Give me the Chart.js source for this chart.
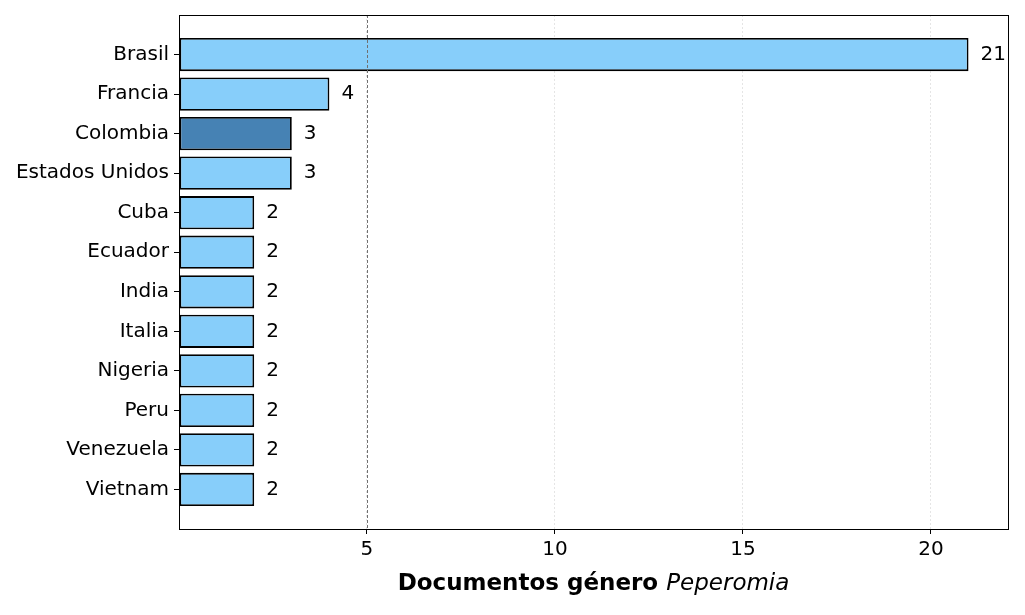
<!DOCTYPE html>
<html><head><meta charset="utf-8">
<script src="https://cdn.jsdelivr.net/npm/chart.js@4.4.1/dist/chart.umd.min.js"></script>
<style>html,body{margin:0;padding:0;background:#fff}#wrap{width:1025px;height:615px}</style>
</head><body><div id="wrap"><canvas id="c" width="1025" height="615"></canvas></div>
<script>
const countries = ["Brasil","Francia","Colombia","Estados Unidos","Cuba","Ecuador","India","Italia","Nigeria","Peru","Venezuela","Vietnam"];
const documents = [21,4,3,3,2,2,2,2,2,2,2,2];
const highlight = "Colombia";
const xTicks = [5,10,15,20];
const refLine = 5;

const labels = ["", ...countries, ""];
const values = [null, ...documents, null];
const LIGHT = "#87CEFA", DARK = "#4682B4";
const FONT = "'DejaVu Sans', sans-serif";

const framePlugin = {
  id: 'frame',
  afterDatasetsDraw(chart) {
    const {ctx, chartArea: a, scales: {x}} = chart;
    ctx.save();
    const px = Math.round(x.getPixelForValue(refLine)) + 0.5;
    ctx.strokeStyle = '#707070'; ctx.lineWidth = 1; ctx.setLineDash([3,2]);
    ctx.beginPath(); ctx.moveTo(px, a.top); ctx.lineTo(px, a.bottom); ctx.stroke();
    ctx.setLineDash([]);
    const meta = chart.getDatasetMeta(0);
    ctx.fillStyle = '#000'; ctx.font = '20px ' + FONT; ctx.textBaseline = 'middle'; ctx.textAlign = 'left';
    meta.data.forEach((bar, i) => {
      if (values[i] == null) return;
      ctx.fillText(String(values[i]), bar.x + 12, bar.y);
    });
    ctx.strokeStyle = '#000'; ctx.lineWidth = 1;
    ctx.strokeRect(Math.round(a.left)+0.5, Math.round(a.top)+0.5, Math.round(a.right-a.left), Math.round(a.bottom-a.top));
    const t1 = 'Documentos género ', t2 = 'Peperomia';
    ctx.font = 'bold 23px ' + FONT; const w1 = ctx.measureText(t1).width;
    ctx.font = 'oblique 23px ' + FONT; const w2 = ctx.measureText(t2).width;
    const cx = (a.left + a.right) / 2; let sx = cx - (w1 + w2) / 2; const ty = 584;
    ctx.textAlign = 'left'; ctx.textBaseline = 'middle';
    ctx.font = 'bold 23px ' + FONT; ctx.fillText(t1, sx, ty);
    ctx.font = 'oblique 23px ' + FONT; ctx.fillText(t2, sx + w1, ty);
    ctx.restore();
  }
};

new Chart(document.getElementById('c'), {
  type: 'bar',
  data: {
    labels,
    datasets: [{
      data: values,
      backgroundColor: labels.map(l => l === highlight ? DARK : LIGHT),
      borderColor: '#000', borderWidth: 1.8, borderSkipped: false,
      barPercentage: 0.84, categoryPercentage: 1
    }]
  },
  options: {
    indexAxis: 'y', responsive: false, animation: false, devicePixelRatio: 1,
    layout: {padding: {top: 15, right: 17, left: 0, bottom: 0}},
    plugins: {legend: {display: false}, tooltip: {enabled: false}},
    scales: {
      x: {
        type: 'linear', min: 0, max: 22.05,
        afterBuildTicks: s => { s.ticks = [0, ...xTicks].map(v => ({value: v})); },
        afterFit: s => { s.height = 86; s.paddingLeft = 0; s.paddingRight = 0; },
        border: {display: true, color: '#000', width: 1, dash: [2,2]},
        grid: {
          color: c => (c.tick && c.tick.value === 0) ? 'transparent' : 'rgba(0,0,0,0.1)',
          tickColor: c => (c.tick && c.tick.value === 0) ? 'transparent' : '#000',
          tickLength: 5, drawTicks: true
        },
        ticks: {color: '#000', font: {size: 20, family: FONT}, padding: 4,
          callback: v => v === 0 ? '' : String(v), maxRotation: 0}
      },
      y: {
        type: 'category', offset: false,
        afterFit: s => { s.width = 179; s.paddingTop = 0; s.paddingBottom = 0; },
        border: {display: true, color: '#000', width: 1},
        grid: {offset: false, drawOnChartArea: false, drawTicks: true, tickLength: 5,
          tickColor: c => (c.tick && c.tick.label === '') ? 'transparent' : '#000'},
        ticks: {color: '#000', font: {size: 20, family: FONT}, padding: 5, autoSkip: false}
      }
    }
  },
  plugins: [framePlugin]
});
</script></body></html>
